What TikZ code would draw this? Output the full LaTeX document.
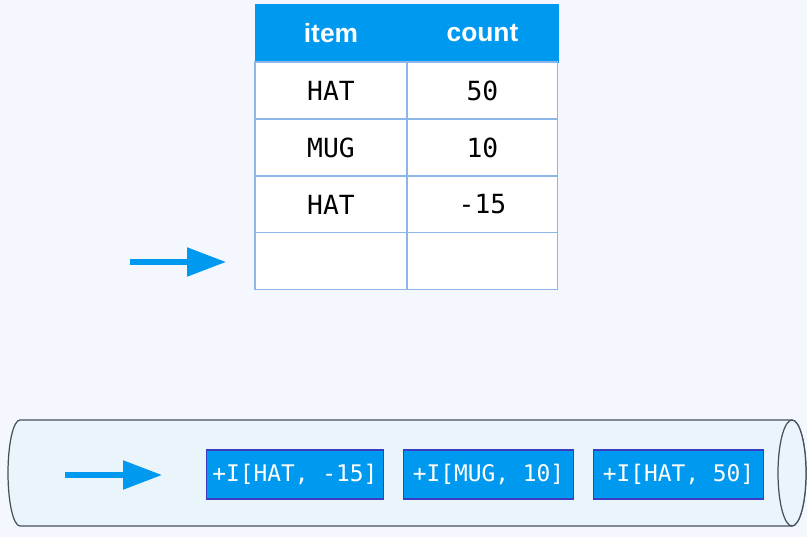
\documentclass[tikz,border=0pt]{standalone}
\usepackage{fontspec}
\setmainfont{Liberation Sans}
\newfontfamily\codefont{DejaVu Sans Mono}
\usetikzlibrary{arrows.meta,positioning}
\definecolor{pagebg}{HTML}{F4F8FE}
\definecolor{headblue}{HTML}{0099F0}
\definecolor{gridline}{HTML}{8DB5E8}
\definecolor{tubefill}{HTML}{E9F4FB}
\definecolor{tubeline}{HTML}{46505A}
\definecolor{evtline}{HTML}{3C3CC0}
\tikzset{
  head/.style={fill=headblue,draw=headblue,text=white,font=\fontsize{15}{18}\selectfont\bfseries,minimum width=3.04cm,minimum height=1.16cm,inner sep=0pt,outer sep=0pt},
  cell/.style={fill=white,draw=gridline,line width=0.6pt,font=\codefont\fontsize{15}{18}\selectfont,minimum width=3.04cm,minimum height=1.14cm,inner sep=0pt,outer sep=0pt},
  evt/.style={fill=headblue,draw=evtline,line width=0.6pt,text=white,font=\codefont\fontsize{13}{16}\selectfont,minimum height=0.98cm,minimum width=3.4cm,inner xsep=0.12cm,outer sep=0pt},
  bigarrow/.style={-{Triangle[length=0.78cm,width=0.56cm]},headblue,line width=3pt},
  tube/.style={fill=tubefill,draw=tubeline,line width=0.7pt},
}
\begin{document}
\begin{tikzpicture}[x=0.02cm,y=-0.02cm]
  \useasboundingbox[fill=pagebg] (0,0) rectangle (807,537);
  % table
  \node[head] (h1) at (331,33) {item};
  \node[head,right=0pt of h1,minimum width=3.02cm] (h2) {count};
  \node[cell,below=0pt of h1] (r1a) {HAT};
  \node[cell,below=0pt of h2,minimum width=3.02cm] (r1b) {50};
  \node[cell,below=0pt of r1a] (r2a) {MUG};
  \node[cell,below=0pt of r1b,minimum width=3.02cm] (r2b) {10};
  \node[cell,below=0pt of r2a] (r3a) {HAT};
  \node[cell,below=0pt of r2b,minimum width=3.02cm] (r3b) {-15};
  \node[cell,below=0pt of r3a] (r4a) {};
  \node[cell,below=0pt of r3b,minimum width=3.02cm] (r4b) {};
  \coordinate (ptrtail) at (130,262);
  \draw[bigarrow,shorten >=0.58cm] (ptrtail) -- (ptrtail -| r4a.west);
  % log tube
  \draw[tube] (792,420) -- (20,420) arc[start angle=270,end angle=90,x radius=12,y radius=53]
    -- (792,526) arc[start angle=90,end angle=-90,x radius=14,y radius=53];
  \draw[tube] (792,473) ellipse[x radius=14,y radius=53];
  \node[evt] (e1) at (295,474.5) {+I[HAT, -15]};
  \node[evt,right=0.4cm of e1] (e2) {+I[MUG, 10]};
  \node[evt,right=0.4cm of e2] (e3) {+I[HAT, 50]};
  \coordinate (logtail) at (65,475);
  \coordinate (logtip) at (162,475);
  \draw[bigarrow] (logtail) -- (logtip);
\end{tikzpicture}
\end{document}
